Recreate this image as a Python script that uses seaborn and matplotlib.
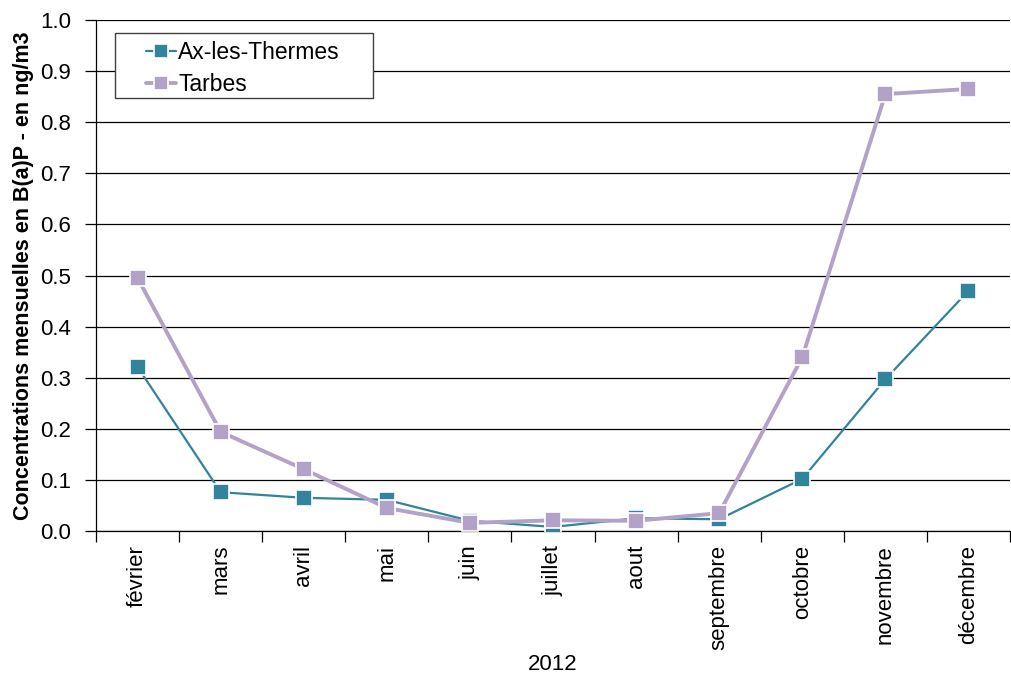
import numpy as np
import pandas as pd
import matplotlib
matplotlib.use("Agg")
import matplotlib.pyplot as plt
from matplotlib.patches import Rectangle
import seaborn as sns

months = ["février", "mars", "avril", "mai", "juin", "juillet", "aout",
          "septembre", "octobre", "novembre", "décembre"]
ax_thermes = [0.321, 0.076, 0.065, 0.061, 0.020, 0.008, 0.025, 0.023, 0.102, 0.297, 0.470]
tarbes = [0.495, 0.194, 0.121, 0.045, 0.016, 0.021, 0.020, 0.035, 0.340, 0.855, 0.865]
yticks = [0.0, 0.1, 0.2, 0.3, 0.4, 0.5, 0.6, 0.7, 0.8, 0.9, 1.0]

sns.set_style("white")
plt.rcParams['font.family'] = ['Liberation Sans', 'DejaVu Sans']
plt.rcParams.update({"text.color": "black", "axes.labelcolor": "black",
                     "xtick.color": "black", "ytick.color": "black"})

fig = plt.figure(figsize=(10.12, 6.75), dpi=100)
ax = fig.add_axes([0.0949, 0.2133, 0.9031, 0.7571])

df = pd.DataFrame({
    "x": list(range(len(months))) * 2,
    "y": ax_thermes + tarbes,
    "site": ["Ax-les-Thermes"] * len(months) + ["Tarbes"] * len(months),
})

c_ax = "#31849B"
c_ta = "#B3A2C7"
sns.lineplot(data=df[df.site == "Ax-les-Thermes"], x="x", y="y", ax=ax,
             color=c_ax, lw=1.6, marker="s", markersize=11,
             markeredgecolor="white", markeredgewidth=1.2, label="Ax-les-Thermes", zorder=3)
sns.lineplot(data=df[df.site == "Tarbes"], x="x", y="y", ax=ax,
             color=c_ta, lw=2.8, marker="s", markersize=11,
             markeredgecolor="white", markeredgewidth=1.2, label="Tarbes", zorder=4)

ax.set_xlim(-0.5, len(months) - 0.5)
ax.set_ylim(0, 1.0)
ax.set_yticks(yticks)
ax.set_yticklabels([f"{v:.1f}" for v in yticks], fontsize=16)
ax.yaxis.grid(True, color="black", lw=0.9)
ax.set_axisbelow(True)

# boundaries as major ticks, labels at centers as minor ticks
ax.set_xticks(np.arange(-0.5, len(months), 1.0))
ax.set_xticklabels([])
ax.set_xticks(np.arange(len(months)), minor=True)
ax.set_xticklabels(months, minor=True, rotation=90, fontsize=16)
ax.tick_params(axis="x", which="major", direction="out", length=8, width=0.9, color="black", bottom=True)
ax.tick_params(axis="x", which="minor", length=0, pad=10, bottom=True)
ax.tick_params(axis="y", direction="out", length=8, width=0.9, color="black", left=True, pad=10)

for s in ["top", "right"]:
    ax.spines[s].set_visible(False)
for s in ["left", "bottom"]:
    ax.spines[s].set_color("black")
    ax.spines[s].set_linewidth(0.9)

ax.set_xlabel("2012", fontsize=16, labelpad=3)
ax.set_ylabel("Concentrations mensuelles en B(a)P - en ng/m3", fontsize=15.5,
              fontweight="bold", labelpad=4)

# legend frame drawn separately (wider horizontal padding than vertical)
frame = Rectangle((0.0208, 0.8474), 0.2822, 0.1272, transform=ax.transAxes,
                  facecolor="white", edgecolor="#404040", lw=1.0, zorder=5)
ax.add_patch(frame)
leg = ax.legend(loc="upper left", bbox_to_anchor=(0.055, 0.958), fontsize=16.5, frameon=False,
                handlelength=1.3, handletextpad=0.1, borderpad=0, labelspacing=0.39,
                markerscale=0.9, borderaxespad=0)
leg.set_zorder(6)

fig.savefig("out.png", dpi=100)
